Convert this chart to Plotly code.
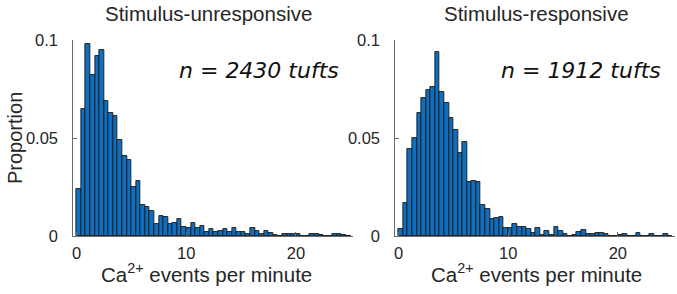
import numpy as np
import plotly.graph_objects as go

bin_width = 25 / 60
n_bins = 60

unresponsive = [0.024, 0.065, 0.098, 0.082, 0.092, 0.095, 0.069, 0.063, 0.061, 0.049,
                0.041, 0.039, 0.025, 0.028, 0.016, 0.015, 0.013, 0.006, 0.010, 0.0099,
                0.006, 0.0068, 0.0085, 0.0044, 0.004, 0.0066, 0.004, 0.005, 0.0018, 0.0035,
                0.002, 0.0026, 0.0036, 0.0019, 0.004, 0.002, 0.002, 0.0008, 0.004, 0.0027,
                0.001, 0.0027, 0.0015, 0.0004, 0.0, 0.0012, 0.0012, 0.001, 0.0012, 0.0,
                0.0, 0.0008, 0.0008, 0.0004, 0.0, 0.0, 0.0008, 0.0008, 0.0004, 0.0]

responsive = [0.0034, 0.0167, 0.0442, 0.0498, 0.0626, 0.0702, 0.0745, 0.0759, 0.0939, 0.0736,
              0.068, 0.0604, 0.0541, 0.0425, 0.0478, 0.0277, 0.0282, 0.0277, 0.0158, 0.0138,
              0.0087, 0.009, 0.0097, 0.0043, 0.0043, 0.006, 0.0045, 0.0048, 0.0037, 0.0016,
              0.0042, 0.0005, 0.0023, 0.0006, 0.0044, 0.0028, 0.0008, 0.0, 0.0003, 0.0022,
              0.0029, 0.0012, 0.0008, 0.0017, 0.0015, 0.0008, 0.0, 0.0, 0.0003, 0.0008,
              0.0, 0.0, 0.0017, 0.0, 0.0, 0.0012, 0.0, 0.0, 0.0008, 0.0]

titles = ["Stimulus-unresponsive", "Stimulus-responsive"]
n_labels = ["<i>n</i> = <i>2430 tufts</i>", "<i>n</i> = <i>1912 tufts</i>"]
x_ticks = [0, 10, 20]
y_ticks = [0, 0.05, 0.1]
y_ticklabels = ["0", "0.05", "0.1"]

centers = (np.arange(n_bins) + 0.5) * bin_width

W, H = 677, 294
x_doms = [[73.3 / W, 353 / W], [395.3 / W, 674.8 / W]]
y_dom = [1 - 236 / H, 1 - 40 / H]

fig = go.Figure()
font = "Liberation Sans, Arial, Helvetica, sans-serif"
txt = "#262626"

for i, vals in enumerate([unresponsive, responsive]):
    xa = "x" if i == 0 else "x2"
    ya = "y" if i == 0 else "y2"
    fig.add_trace(go.Bar(
        x=centers, y=vals, width=bin_width, xaxis=xa, yaxis=ya,
        marker=dict(color="#0f6ebd", line=dict(color="#1a1a1a", width=0.9)),
        showlegend=False, hoverinfo="skip"))

axis_common = dict(showgrid=False, zeroline=False, showline=True, linecolor="#6a6a6a",
                   linewidth=1, ticks="inside", ticklen=4, tickcolor="#6a6a6a",
                   tickfont=dict(family=font, size=16.5, color=txt), mirror=False,
                   automargin=False)

layout = dict(
    template="none",
    width=W, height=H, margin=dict(l=0, r=0, t=0, b=0, pad=0),
    paper_bgcolor="white", plot_bgcolor="white", bargap=0,
    font=dict(family=font, color=txt),
)
for i in range(2):
    sfx = "" if i == 0 else "2"
    layout["xaxis" + sfx] = dict(axis_common, domain=x_doms[i], range=[-0.3, 25.2],
                                 tickvals=x_ticks, anchor="y" + sfx, ticklabelstandoff=2)
    layout["yaxis" + sfx] = dict(axis_common, domain=y_dom, range=[0, 0.1],
                                 tickvals=y_ticks, ticktext=y_ticklabels, anchor="x" + sfx,
                                 ticklabelstandoff=11)
fig.update_layout(**layout)

title_x = [208, 536]
xlabel_x = [206, 536]
ann = []
for i in range(2):
    ann.append(dict(text=titles[i], x=title_x[i] / W, y=1 - 13 / H, xref="paper", yref="paper",
                    showarrow=False, font=dict(family=font, size=20.5, color=txt),
                    xanchor="center", yanchor="middle"))
    ann.append(dict(text="Ca<sup>2+</sup> events per minute", x=xlabel_x[i] / W, y=1 - 273 / H,
                    xref="paper", yref="paper", showarrow=False,
                    font=dict(family=font, size=20.5, color=txt),
                    xanchor="center", yanchor="middle"))
    ann.append(dict(text=n_labels[i], x=x_doms[i][1] - 12 / W, y=1 - 71 / H,
                    xref="paper", yref="paper", showarrow=False,
                    font=dict(family="DejaVu Sans, sans-serif", size=22, color="#111"),
                    xanchor="right", yanchor="middle"))
ann.append(dict(text="Proportion", x=15 / W, y=1 - 138 / H, xref="paper", yref="paper",
                showarrow=False, textangle=-90, font=dict(family=font, size=20, color=txt),
                xanchor="center", yanchor="middle"))
fig.update_layout(annotations=ann)

fig.write_html("out.html", config={"displayModeBar": False},
               post_script="document.body.style.margin='0';document.body.style.padding='0';")
